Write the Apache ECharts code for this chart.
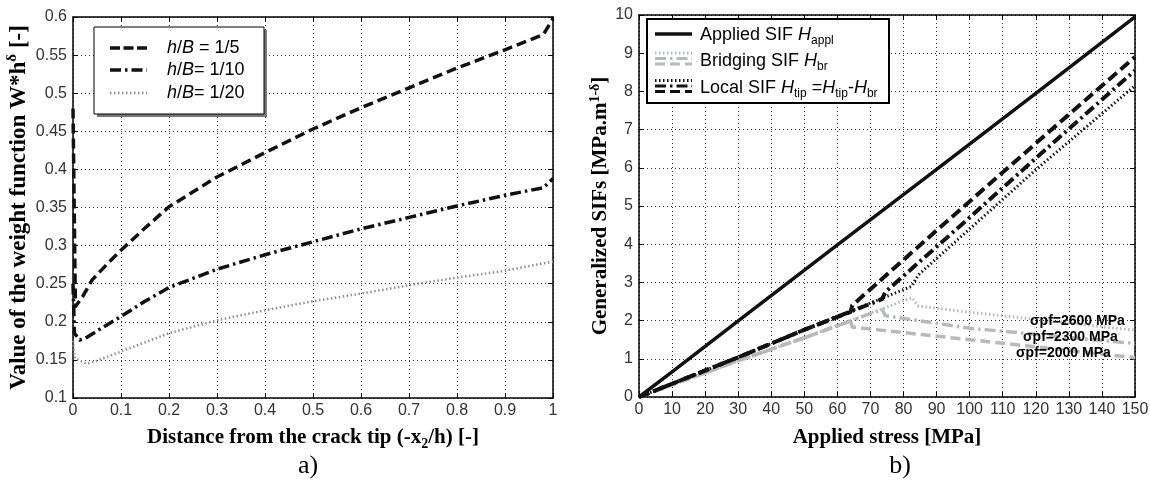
<!DOCTYPE html>
<html>
<head>
<meta charset="utf-8">
<script src="https://cdn.jsdelivr.net/npm/echarts@6/dist/echarts.min.js"></script>
<style>
html,body{margin:0;padding:0;background:#fff;}
#c{width:1150px;height:483px;}
</style>
</head>
<body>
<div id="c"></div>
<script>
// ---------- data: panel a) ----------
const leftXTickLabels = ['0','0.1','0.2','0.3','0.4','0.5','0.6','0.7','0.8','0.9','1'];
const leftYTickLabels = ['0.1','0.15','0.2','0.25','0.3','0.35','0.4','0.45','0.5','0.55','0.6'];
const leftSeriesNames = ['h/B = 1/5', 'h/B= 1/10', 'h/B= 1/20'];
const hB5 = [[0,0.48],[0.005,0.22],[0.02,0.233],[0.04,0.255],[0.07,0.275],[0.1,0.294],[0.15,0.323],[0.2,0.351],[0.3,0.39],[0.4,0.422],[0.5,0.453],[0.6,0.481],[0.7,0.507],[0.8,0.533],[0.9,0.557],[0.98,0.577],[1.0,0.598]];
const hB10 = [[0,0.25],[0.003,0.185],[0.014,0.176],[0.03,0.18],[0.05,0.188],[0.1,0.207],[0.15,0.227],[0.2,0.245],[0.3,0.269],[0.4,0.288],[0.5,0.305],[0.6,0.322],[0.7,0.337],[0.8,0.352],[0.9,0.366],[0.98,0.376],[1.0,0.388]];
const hB20 = [[0,0.175],[0.004,0.152],[0.028,0.145],[0.05,0.149],[0.1,0.161],[0.2,0.185],[0.3,0.202],[0.4,0.215],[0.5,0.227],[0.6,0.237],[0.7,0.248],[0.8,0.258],[0.9,0.267],[1.0,0.279]];

// ---------- data: panel b) ----------
const rightXTickLabels = ['0','10','20','30','40','50','60','70','80','90','100','110','120','130','140','150'];
const rightYTickLabels = ['0','1','2','3','4','5','6','7','8','9','10'];
const applied = [[0,0],[10,0.66],[30,1.99],[60,3.98],[90,5.96],[120,7.95],[150,9.95]];
const bridging2000 = [[0,0],[30,0.95],[50,1.55],[64,1.99],[64.5,1.83],[100,1.5],[150,1.03]];
const bridging2300 = [[0,0],[30,0.95],[50,1.55],[73.5,2.29],[74.5,2.13],[100,1.8],[150,1.4]];
const bridging2600 = [[0,0],[30,0.95],[50,1.55],[82.5,2.6],[84.5,2.38],[100,2.22],[150,1.75]];
const local2000 = [[0,0],[30,1.04],[50,1.76],[64,2.23],[64.5,2.4],[90,4.36],[120,6.64],[150,8.9]];
const local2300 = [[0,0],[30,1.04],[50,1.76],[73.5,2.56],[74.5,2.75],[100,4.7],[120,6.25],[150,8.55]];
const local2600 = [[0,0],[30,1.04],[50,1.76],[82.5,2.9],[84.5,3.2],[100,4.4],[120,5.95],[150,8.15]];
const sigmaLabels = ['\u03c3pf=2600 MPa', '\u03c3pf=2300 MPa', '\u03c3pf=2000 MPa'];

// ---------- styles ----------
const SANS = "'Liberation Sans', Arial, Helvetica, sans-serif";
const NARROW = "'Liberation Sans Narrow', 'Liberation Sans', Arial, sans-serif";
const SERIF = "'Liberation Serif', 'Times New Roman', Times, serif";
const BLACK = '#111';
const GRAY = '#b6baba';
const GRAY2 = '#8c9090';
const DASH = [10,5];
const DASHDOT = [11,4,2.5,4];
const DOT = [1.5,2.5];

const gridLine = {show:true, lineStyle:{color:'#333', width:1, type:[1,3]}};
const tick = {show:true, inside:true, length:5, lineStyle:{color:'#000', width:1}};
const axLine = {show:true, onZero:false, lineStyle:{color:'#000', width:1.5}};
const tickLabel = {color:'#333', fontFamily:NARROW, fontSize:16};

function lookup(labels, min, step){ return v => labels[Math.round((v-min)/step)] ?? ''; }

function titleStyle(size){
  return {
    fontFamily: SERIF, fontWeight:'bold', fontSize:size, color:'#000', lineHeight:size+5,
    rich:{
      sup:{fontFamily:SERIF, fontWeight:'bold', fontSize:Math.round(size*0.66), lineHeight:size+5, verticalAlign:'top', color:'#000'},
      sub:{fontFamily:SERIF, fontWeight:'bold', fontSize:Math.round(size*0.66), lineHeight:size+5, verticalAlign:'bottom', color:'#000'}
    }
  };
}

function mainX(grid, min, max, step, labels, name, gap, size){
  return {type:'value', gridIndex:grid, position:'bottom', min, max, interval:step,
    axisLine:axLine, axisTick:tick, splitLine:gridLine,
    axisLabel:Object.assign({margin:5, formatter:lookup(labels,min,step)}, tickLabel),
    name, nameLocation:'middle', nameGap:gap, nameMoveOverlap:false, nameTextStyle:titleStyle(size)};
}
function mainY(grid, min, max, step, labels, name, gap, size){
  return {type:'value', gridIndex:grid, position:'left', min, max, interval:step,
    axisLine:axLine, axisTick:tick, splitLine:gridLine,
    axisLabel:Object.assign({margin:6, formatter:lookup(labels,min,step)}, tickLabel),
    name, nameLocation:'middle', nameRotate:90, nameGap:gap, nameMoveOverlap:false, nameTextStyle:titleStyle(size)};
}
function sideAxis(grid, pos, min, max, step){
  return {type:'value', gridIndex:grid, position:pos, min, max, interval:step,
    axisLine:axLine, axisTick:tick, splitLine:{show:false}, axisLabel:{show:false}};
}
function line(name, data, xi, yi, color, width, dash, z){
  return {type:'line', name, data, xAxisIndex:xi, yAxisIndex:yi, symbol:'none', silent:true, z,
    lineStyle:{color, width, type:dash, cap:'butt', join:'round'}, animation:false};
}

// ---------- legends (graphic) ----------
const legendRich = {
  i:{fontFamily:SANS, fontStyle:'italic', fontSize:18, lineHeight:24, fill:'#000', color:'#000'},
  sub:{fontFamily:SANS, fontSize:12, lineHeight:24, verticalAlign:'bottom', fill:'#000', color:'#000'},
  n:{fontFamily:SANS, fontSize:18, lineHeight:24, fill:'#000', color:'#000'}
};
function gText(x, y, text, extra){
  return {type:'text', z:100, style:Object.assign({x, y, text, fontFamily:SANS, fontSize:18, fill:'#000',
    lineHeight:24, align:'left', textAlign:'left', verticalAlign:'middle', textVerticalAlign:'middle', rich:legendRich}, extra||{})};
}
function gLine(x1, x2, y, color, w, dash){
  return {type:'line', z:100, shape:{x1, y1:y, x2, y2:y}, style:{stroke:color, lineWidth:w, lineDash:dash||null, lineCap:'butt'}};
}
const leftLegendText = ['{i|h}{n|/}{i|B}{n| = 1/5}', '{i|h}{n|/}{i|B}{n|= 1/10}', '{i|h}{n|/}{i|B}{n|= 1/20}'];
const rightLegendText = ['{n|Applied SIF }{i|H}{sub|appl}', '{n|Bridging SIF }{i|H}{sub|br}', '{n|Local SIF }{i|H}{sub|tip}{n| =}{i|H}{sub|tip}{n|-}{i|H}{sub|br}'];

const graphic = [
  // left legend
  {type:'rect', z:99, shape:{x:97, y:30, width:170, height:87}, style:{fill:'#777'}},
  {type:'rect', z:99, shape:{x:94, y:27, width:170, height:87}, style:{fill:'#fff', stroke:'#000', lineWidth:1}},
  gLine(110, 147, 48, BLACK, 3.5, [10,3.5]),
  gLine(110, 147, 70, BLACK, 3.5, DASHDOT),
  gLine(110, 147, 93, GRAY2, 2.5, DOT),
  gText(167, 48, leftLegendText[0]),
  gText(167, 70, leftLegendText[1]),
  gText(167, 93, leftLegendText[2]),
  // right legend
  {type:'rect', z:99, shape:{x:647, y:19, width:242, height:84}, style:{fill:'#fff', stroke:'#000', lineWidth:2}},
  gLine(655, 692, 34, BLACK, 3.5),
  gLine(655, 692, 53, GRAY, 3, DOT),
  gLine(655, 692, 58.5, GRAY, 3, DASHDOT),
  gLine(655, 692, 64, GRAY, 3, DASH),
  gLine(655, 692, 80.5, BLACK, 3, DOT),
  gLine(655, 692, 86, BLACK, 3, DASHDOT),
  gLine(655, 692, 91.5, BLACK, 3, DASH),
  gText(700, 35, rightLegendText[0]),
  gText(700, 61, rightLegendText[1]),
  gText(700, 88, rightLegendText[2]),
  // sigma annotations
  {type:'text', z:100, style:{x:1030, y:321, text:sigmaLabels[0], fontFamily:SANS, fontWeight:'bold', fontSize:14, fill:'#000', verticalAlign:'middle', textVerticalAlign:'middle'}},
  {type:'text', z:100, style:{x:1023, y:337, text:sigmaLabels[1], fontFamily:SANS, fontWeight:'bold', fontSize:14, fill:'#000', verticalAlign:'middle', textVerticalAlign:'middle'}},
  {type:'text', z:100, style:{x:1016, y:353, text:sigmaLabels[2], fontFamily:SANS, fontWeight:'bold', fontSize:14, fill:'#000', verticalAlign:'middle', textVerticalAlign:'middle'}},
  // panel labels
  {type:'text', z:100, style:{x:308, y:466, text:'a)', fontFamily:SERIF, fontSize:26, fill:'#000', align:'center', textAlign:'center', verticalAlign:'middle', textVerticalAlign:'middle'}},
  {type:'text', z:100, style:{x:900, y:466, text:'b)', fontFamily:SERIF, fontSize:26, fill:'#000', align:'center', textAlign:'center', verticalAlign:'middle', textVerticalAlign:'middle'}}
];

const option = {
  animation:false,
  backgroundColor:'#fff',
  grid:[
    {left:73, top:17, width:480, height:381, containLabel:false, outerBoundsMode:'none'},
    {left:639, top:15, width:496, height:382, containLabel:false, outerBoundsMode:'none'}
  ],
  xAxis:[
    mainX(0, 0, 1, 0.1, leftXTickLabels, 'Distance from the crack tip (-x{sub|2}/h) [-]', 27, 21),
    sideAxis(0, 'top', 0, 1, 0.1),
    mainX(1, 0, 150, 10, rightXTickLabels, 'Applied stress [MPa]', 28, 21),
    sideAxis(1, 'top', 0, 150, 10)
  ],
  yAxis:[
    mainY(0, 0.1, 0.6, 0.05, leftYTickLabels, 'Value of the weight function W*h{sup|\u03b4} [-]', 40, 23),
    sideAxis(0, 'right', 0.1, 0.6, 0.05),
    mainY(1, 0, 10, 1, rightYTickLabels, 'Generalized SIFs [MPa.m{sup|1-\u03b4}]', 25, 21),
    sideAxis(1, 'right', 0, 10, 1)
  ],
  series:[
    line(leftSeriesNames[2], hB20, 0, 0, GRAY2, 2.5, DOT, 3),
    line(leftSeriesNames[1], hB10, 0, 0, BLACK, 3.5, DASHDOT, 4),
    line(leftSeriesNames[0], hB5, 0, 0, BLACK, 3.5, DASH, 5),

    line('Bridging 2600', bridging2600, 2, 2, GRAY, 3, DOT, 3),
    line('Bridging 2300', bridging2300, 2, 2, GRAY, 3.5, DASHDOT, 3),
    line('Bridging 2000', bridging2000, 2, 2, GRAY, 3.5, DASH, 3),
    line('Local 2600', local2600, 2, 2, BLACK, 3, DOT, 4),
    line('Local 2300', local2300, 2, 2, BLACK, 4, DASHDOT, 4),
    line('Local 2000', local2000, 2, 2, BLACK, 4, [11,5], 4),
    line('Applied', applied, 2, 2, BLACK, 3.5, 'solid', 5)
  ],
  graphic
};

const chart = echarts.init(document.getElementById('c'), null, {renderer:'canvas'});
chart.setOption(option);
</script>
</body>
</html>
